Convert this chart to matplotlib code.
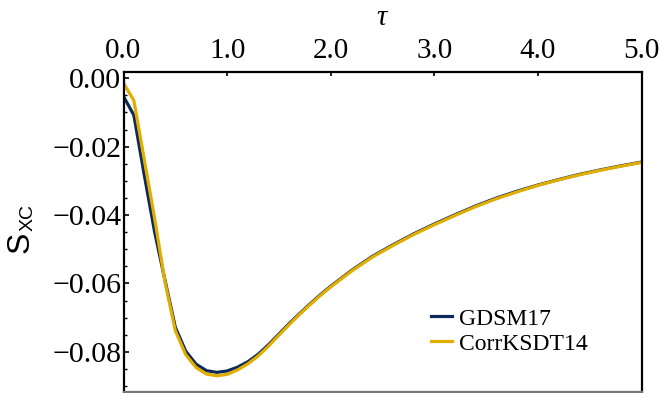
import matplotlib
matplotlib.use("Agg")
import matplotlib.pyplot as plt
from matplotlib.ticker import MultipleLocator

# degeneracy parameter tau
tau = [0.0, 0.1, 0.2, 0.3, 0.4, 0.5, 0.6, 0.7, 0.8, 0.9, 1.0,
       1.1, 1.2, 1.3, 1.4, 1.5, 1.6, 1.7, 1.8, 1.9, 2.0,
       2.2, 2.4, 2.6, 2.8, 3.0, 3.2, 3.4, 3.6, 3.8, 4.0,
       4.2, 4.4, 4.6, 4.8, 5.0]

# exchange-correlation entropy per particle
s_gdsm17 = [-0.0053, -0.0108, -0.0282, -0.0449, -0.0590, -0.0728, -0.0798, -0.0836,
            -0.0855, -0.0860, -0.0856, -0.0845, -0.0829, -0.0807, -0.0779, -0.0748,
            -0.0717, -0.0688, -0.0660, -0.0633, -0.0608, -0.0562, -0.0521, -0.0487,
            -0.0455, -0.0426, -0.0399, -0.0373, -0.0350, -0.0330, -0.0312, -0.0296,
            -0.0281, -0.0268, -0.0256, -0.0245]

s_corrksdt14 = [-0.0014, -0.0065, -0.0237, -0.0409, -0.0595, -0.0738, -0.0808, -0.0846,
                -0.0865, -0.0870, -0.0866, -0.0853, -0.0835, -0.0812, -0.0783, -0.0751,
                -0.0720, -0.0690, -0.0662, -0.0635, -0.0610, -0.0564, -0.0523, -0.0489,
                -0.0457, -0.0428, -0.0401, -0.0375, -0.0352, -0.0332, -0.0313, -0.0297,
                -0.0282, -0.0269, -0.0257, -0.0246]

x_ticks = [0.0, 1.0, 2.0, 3.0, 4.0, 5.0]
x_tick_labels = ["0.0", "1.0", "2.0", "3.0", "4.0", "5.0"]
y_ticks = [0.00, -0.02, -0.04, -0.06, -0.08]
y_tick_labels = ["0.00", "\u22120.02", "\u22120.04", "\u22120.06", "\u22120.08"]

W, H = 662, 393
fig = plt.figure(figsize=(W / 100, H / 100), dpi=100)
left, right, top, bottom = 123.5, 641.7, 72.0, 391.5
ax = fig.add_axes([left / W, (H - bottom) / H, (right - left) / W, (bottom - top) / H])

navy = "#0b2a5a"
gold = "#e0ad00"
ax.plot(tau, s_gdsm17, color=navy, lw=2.3, label="GDSM17", solid_joinstyle="miter")
ax.plot(tau, s_corrksdt14, color=gold, lw=2.3, label="CorrKSDT14", solid_joinstyle="miter")

ax.set_xlim(0, 5.0)
ax.set_ylim(-0.0916, 0.00184)

serif = "Liberation Serif"
ax.xaxis.set_ticks_position("top")
ax.xaxis.set_label_position("top")
ax.set_xticks(x_ticks)
ax.set_xticklabels(x_tick_labels, fontfamily=serif, fontsize=21)
ax.set_yticks(y_ticks)
ax.set_yticklabels(y_tick_labels, fontfamily=serif, fontsize=21.5)
ax.yaxis.set_minor_locator(MultipleLocator(0.005))
ax.tick_params(axis="x", which="major", direction="in", length=3, width=1.2, pad=6)
ax.tick_params(axis="y", which="major", direction="in", length=3.5, width=1.2, pad=1.5)
ax.tick_params(axis="y", which="minor", direction="in", length=2.5, width=1.0)
ax.tick_params(axis="x", which="minor", length=0)

for side in ["top", "left", "right"]:
    ax.spines[side].set_linewidth(1.6)
    ax.spines[side].set_color("black")
ax.spines["bottom"].set_linewidth(1.6)
ax.spines["bottom"].set_color("#777777")

# axis titles
fig.text(382 / W, 1 - 18 / H, "\u03c4", fontfamily=serif, style="italic",
         fontsize=21, ha="center", va="center")
fig.text(21 / W, 1 - 242 / H, "S", fontfamily="Liberation Sans", fontsize=23,
         rotation=90, ha="center", va="center")
fig.text(28 / W, 1 - 218 / H, "XC", fontfamily="Liberation Sans", fontsize=14,
         rotation=90, ha="center", va="center")

leg = ax.legend(loc="upper left", bbox_to_anchor=(431 / W, 1 - 308 / H),
                bbox_transform=fig.transFigure, frameon=False,
                prop={"family": serif, "size": 17}, handlelength=0.9,
                handletextpad=0.3, labelspacing=0.15, borderpad=0, borderaxespad=0)

fig.savefig("out.png", dpi=100)
